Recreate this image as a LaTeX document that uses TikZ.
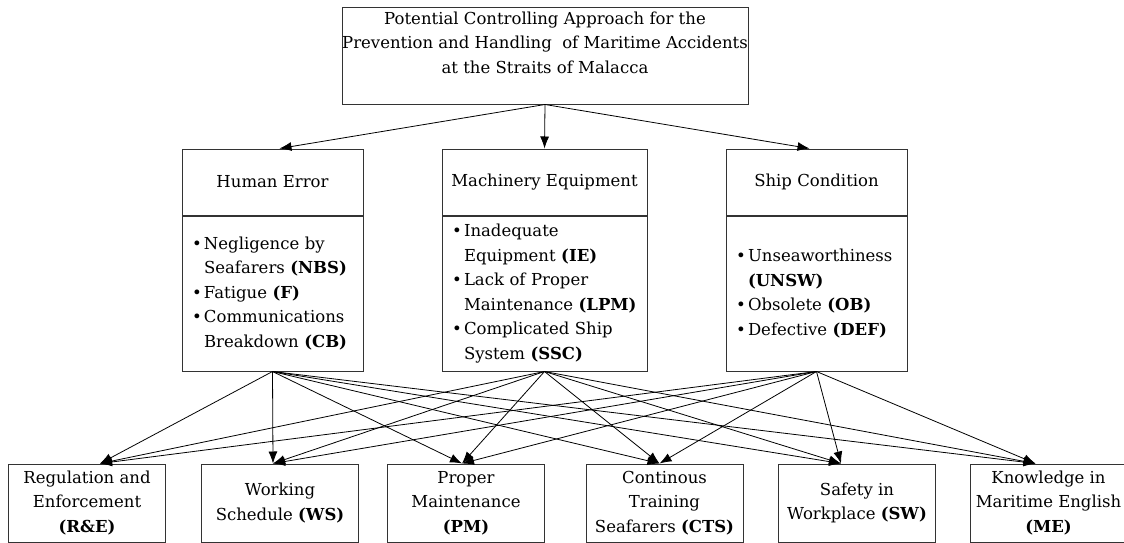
\documentclass[tikz,border=0pt]{standalone}
\usepackage{fontspec}
\setmainfont{DejaVu Serif}
\usetikzlibrary{arrows.meta,positioning}

% Viñeta con sangría francesa
\newcommand{\vin}{\makebox[12pt][l]{\textbullet}}
\newcommand{\sang}[1]{\mbox{\hspace*{12pt}#1}}

\begin{document}
\begin{tikzpicture}[x=1pt,y=-1pt,
    caja/.style={draw=black!80, line width=1pt, inner sep=0pt,
        font=\fontsize{16.5}{24.5}\selectfont},
    lista/.style={caja, align=left, inner xsep=10pt},
    flecha/.style={-{Latex[length=12pt,width=9pt]}, line width=0.8pt}]

        % Marco de la figura
        \useasboundingbox (0,0) rectangle (1124,543);

        % Caja superior (objetivo)
        \node[caja, minimum width=406, minimum height=96] (obj) at (545,56) {};
        \node[align=center, inner sep=0pt, anchor=north,
            font=\fontsize{16.5}{24.5}\selectfont] (objT) at ([yshift=-4pt]obj.north)
            {Potential Controlling Approach for the\\
             Prevention and Handling\ \ of Maritime Accidents\\
             at the Straits of Malacca};

        % Cabeceras de las tres causas
        \node[caja, minimum width=181, minimum height=66] (he) at (272.5,182) {Human Error};
        \node[caja, minimum width=205, minimum height=66] (mq) at (544.5,182) {Machinery Equipment};
        \node[caja, minimum width=181, minimum height=66] (sc) at (816.5,182) {Ship Condition};

        % Listas de factores
        \node[lista, text width=161, minimum height=155, below=0pt of he] (heL)
            {\vin Negligence by\\ \sang{Seafarers \textbf{(NBS)}}\\
             \vin Fatigue \textbf{(F)}\\
             \vin Communications\\ \sang{Breakdown \textbf{(CB)}}};
        \node[lista, text width=185, minimum height=155, below=0pt of mq] (mqL)
            {\vin Inadequate\\ \sang{Equipment \textbf{(IE)}}\\
             \vin Lack of Proper\\ \sang{Maintenance \textbf{(LPM)}}\\
             \vin Complicated Ship\\ \sang{System \textbf{(SSC)}}};
        \node[lista, text width=161, minimum height=155, below=0pt of sc] (scL)
            {\vin Unseaworthiness\\ \sang{\textbf{(UNSW)}}\\
             \vin Obsolete \textbf{(OB)}\\
             \vin Defective \textbf{(DEF)}};

        % Medidas de control (fila inferior)
        \node[caja, align=center, minimum width=157, minimum height=78] (re) at (87,503)
            {Regulation and\\ Enforcement\\ \textbf{(R\&E)}};
        \node[caja, align=center, minimum width=157, minimum height=78] (ws) at (280,503)
            {Working\\ Schedule \textbf{(WS)}};
        \node[caja, align=center, minimum width=157, minimum height=78] (pm) at (466,503)
            {Proper\\ Maintenance\\ \textbf{(PM)}};
        \node[caja, align=center, minimum width=157, minimum height=78] (cts) at (664.5,503)
            {Continous\\ Training\\ Seafarers \textbf{(CTS)}};
        \node[caja, align=center, minimum width=157, minimum height=78] (sw) at (857,503)
            {Safety in\\ Workplace \textbf{(SW)}};
        \node[caja, align=center, minimum width=157, minimum height=78] (me) at (1048.5,503)
            {Knowledge in\\ Maritime English\\ \textbf{(ME)}};

        % Flechas del objetivo a las causas
        \foreach \dest/\dx in {he/7, mq/0, sc/-7}
            \draw[flecha] (obj.south) -- ([xshift=\dx pt]\dest.north);

        % Flechas de cada causa a cada medida
        \foreach \orig in {heL, mqL, scL}
            \foreach \dest/\dx in {re/13, ws/-7, pm/-4, cts/-5, sw/-16, me/-13}
                \draw[flecha] (\orig.south) -- ([xshift=\dx pt]\dest.north);
    \end{tikzpicture}
\end{document}
